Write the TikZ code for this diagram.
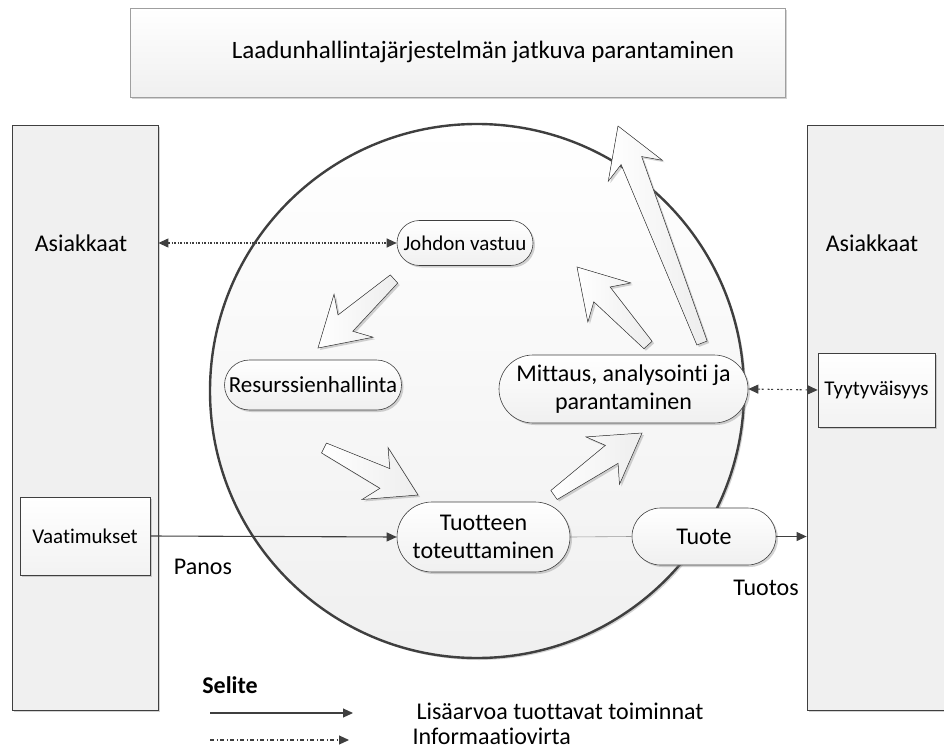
\documentclass[tikz,border=0pt]{standalone}
\usepackage{fontspec}
\setmainfont{Carlito}[Ligatures=NoCommon]
\usetikzlibrary{arrows.meta,shadows,calc,shapes.misc}

\definecolor{ink}{HTML}{3F3F3F}
\definecolor{panel}{HTML}{F0F0F0}

\tikzset{
  softshadow/.style={drop shadow={opacity=0.35, shadow xshift=2pt, shadow yshift=-2pt}},
  panelbox/.style={rectangle, draw=ink, line width=0.8pt, fill=panel, softshadow},
  titlebox/.style={rectangle, draw=gray!75, line width=0.8pt, top color=white, bottom color=gray!12, softshadow},
  smallbox/.style={rectangle, draw=ink, line width=0.7pt, top color=white, bottom color=gray!10, softshadow,
    font=\fontsize{21}{25}\selectfont},
  process/.style={rounded rectangle, draw=ink, line width=0.6pt, top color=white, bottom color=gray!12,
    softshadow, align=center, inner sep=2pt},
  blockshape/.style={draw=ink, line width=0.5pt, left color=white, right color=gray!14, softshadow, line join=miter},
  tri/.tip={Triangle[length=10pt,width=9pt]},
  flow/.style={draw=ink, line width=1.1pt, -tri},
  info/.style={draw=ink, line width=1.1pt, dash pattern=on 2pt off 1.5pt on 1pt off 1.5pt, tri-tri},
  feedback/.style={draw=ink, line width=1.1pt, dash pattern=on 2pt off 1.5pt on 2pt off 4pt, tri-tri},
  legendinfo/.style={draw=ink, line width=1.1pt, dash pattern=on 4pt off 2.5pt on 1pt off 2.5pt, -tri},
  link/.style={draw=gray!80, line width=0.6pt},
}

% hollow block arrow from a tail point to a tip point
\newcommand\blockarrow[2]{%
  \coordinate (ba-t) at #1;
  \coordinate (ba-h) at #2;
  \coordinate (ba-n) at ($(ba-h)!37pt!(ba-t)$);
  \coordinate (ba-b) at ($(ba-h)!48pt!(ba-t)$);
  \filldraw[blockshape]
    ($(ba-t)!5.5pt!90:(ba-h)$) -- ($(ba-n)!11pt!-90:(ba-t)$) -- ($(ba-b)!29pt!-90:(ba-t)$) -- (ba-h)
    -- ($(ba-b)!29pt!90:(ba-t)$) -- ($(ba-n)!11pt!90:(ba-t)$) -- ($(ba-t)!5.5pt!-90:(ba-h)$) -- cycle;
}

\begin{document}
\begin{tikzpicture}[x=1pt, y=-1pt, font=\fontsize{24}{28}\selectfont]
\useasboundingbox (0,0) rectangle (944,751);

% heading panel
\node[titlebox, minimum width=655pt, minimum height=89pt] (top) at (457.5,52.5) {};
\node[font=\fontsize{25}{29}\selectfont] (toptext) at (483,52) {Laadunhallintajärjestelmän jatkuva parantaminen};

% customer panels
\node[panelbox, minimum width=146pt, minimum height=585pt] (lbox) at (85,417.5) {};
\node[panelbox, minimum width=150pt, minimum height=585pt] (rbox) at (882,417.5) {};
\node (lcust) at (81,243) {Asiakkaat};
\node (rcust) at (872,243) {Asiakkaat};

% process cycle
\node[circle, draw=ink, line width=2.4pt, top color=white, bottom color=gray!12,
      minimum size=534pt, softshadow] (cyc) at (477,391) {};

% block arrows of the cycle
\blockarrow{(394,279)}{(318,348)}
\blockarrow{(324,448)}{(418,495)}
\blockarrow{(554,495)}{(642,433)}
\blockarrow{(648,345)}{(577,267)}
\blockarrow{(702,343)}{(618,126)}

% process steps
\node[process, minimum width=140pt, minimum height=45pt, font=\fontsize{21}{25}\selectfont] (jv) at (465,243) {Johdon vastuu};
\node[process, minimum width=181pt, minimum height=50pt, font=\fontsize{23}{27}\selectfont] (rh) at (313,385) {Resurssienhallinta};
\node[process, minimum width=253pt, minimum height=68pt] (mit) at (623.5,389) {Mittaus, analysointi ja\\parantaminen};
\node[process, minimum width=177pt, minimum height=70pt] (tt) at (483.5,537) {Tuotteen\\toteuttaminen};
\node[process, minimum width=148pt, minimum height=57pt] (tuote) at (704,536.5) {Tuote};

% requirement and satisfaction boxes
\node[smallbox, minimum width=130pt, minimum height=78pt] (vaat) at (85,536) {Vaatimukset};
\node[smallbox, minimum width=117pt, minimum height=74pt] (tyy) at (876.5,390) {Tyytyväisyys};

% connectors
\draw[flow] (vaat.east) -- (tt.west);
\draw[link] (tt.east) -- (tuote.west);
\draw[flow] (tuote.east) -- (tuote.east -| rbox.west);
\draw[info] (jv.west -| lbox.east) -- (jv.west);
\draw[feedback] (mit.east) -- (tyy.west);

\node (panos) at (203,567) {Panos};
\node (tuotos) at (766,588) {Tuotos};

% legend
\node[font=\fontsize{24}{28}\selectfont\bfseries] (selite) at (230,685) {Selite};
\coordinate (l1a) at (210,713);
\coordinate (l1b) at (353,713);
\coordinate (l2a) at (210,740);
\coordinate (l2b) at (349,740);
\draw[flow] (l1a) -- (l1b);
\draw[legendinfo] (l2a) -- (l2b);
\node[anchor=west] (lt1) at (413,711) {Lisäarvoa tuottavat toiminnat};
\node[anchor=west] (lt2) at (409,736) {Informaatiovirta};
\end{tikzpicture}
\end{document}
